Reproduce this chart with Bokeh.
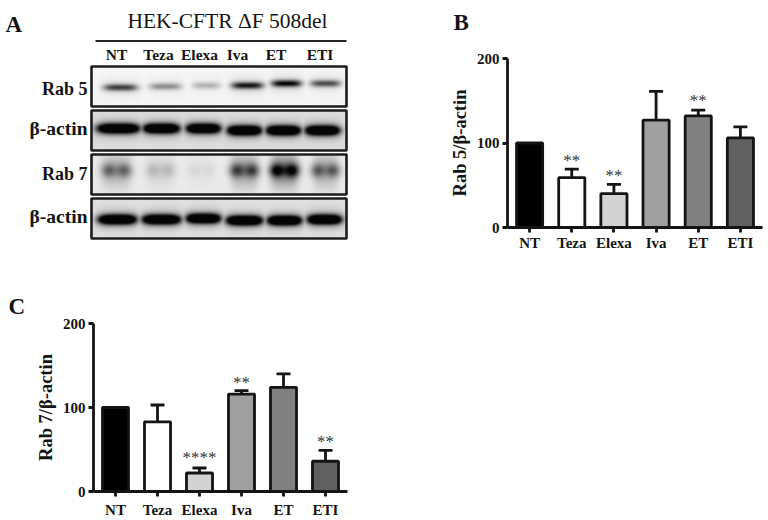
import numpy as np
from bokeh.embed import file_html
from bokeh.resources import INLINE
from bokeh.plotting import figure
from bokeh.layouts import column, row
from bokeh.models import (ColumnDataSource, FactorRange, FixedTicker,
                          Range1d, TeeHead, Title, Whisker)
from bokeh.core.properties import value

SERIF = "Liberation Serif"
INK = "#141414"

categories = ["NT", "Teza", "Elexa", "Iva", "ET", "ETI"]
fills = ["#000000", "#ffffff", "#d3d3d3", "#a0a0a2", "#808080", "#606060"]

rab5_values = [100, 59, 40, 127, 132, 106]
rab5_upper = [None, 69, 51, 161, 139, 119]
rab5_stars = [None, "**", "**", None, "**", None]
rab5_star_y = [None, 79, 62, None, 150, None]

rab7_values = [100, 83, 22, 116, 124, 36]
rab7_upper = [None, 103, 28, 120, 140, 49]
rab7_stars = [None, None, "****", "**", None, "**"]
rab7_star_y = [None, None, 40, 130, None, 60]

# Western blot lanes: lane centre, half width, band y, darkness
blot_rows = ["Rab 5", "β-actin", "Rab 7", "β-actin"]
blot_tops = [66, 110, 154, 198]
blot_label_y = [88, 128, 173, 216]
blot_label_size = ["18px", "19.5px", "18px", "19.5px"]
blot_bg = [0.945, 0.85, 0.90, 0.86]
rab5_lanes = [(120, 17, 87, .72), (165, 16, 86, .40), (206, 14, 85, .26),
              (247, 16, 85, .88), (286, 15, 83, .95), (325, 15, 83, .66)]
actin1_lanes = [(118, 21, 128, 1.0), (161, 18, 128, 1.0), (203, 17, 128, .98),
                (244, 17, 130, 1.0), (283, 17, 130, 1.0), (322, 17, 130, 1.0)]
rab7_lanes = [(116, 15, 170, .46), (160, 14, 170, .17), (201, 13, 170, .06),
              (244, 14, 170, .60), (284, 14, 170, .86), (325, 13, 170, .50)]
actin2_lanes = [(117, 19, 219, 1.0), (161, 19, 219, 1.0), (203, 17, 218, 1.0),
                (244, 18, 220, 1.0), (284, 17, 220, 1.0), (324, 17, 219, 1.0)]
blot_lanes = [rab5_lanes, actin1_lanes, rab7_lanes, actin2_lanes]
blot_kind = ["band", "band", "double", "band"]
lane_label_x = [116, 158, 199, 237, 275.5, 319.5]


def blot_image(top, bg, lanes, kind, left=91, w=255, h=40):
    xx, yy = np.meshgrid(np.arange(left, left + w) + .5, np.arange(top, top + h) + .5)
    dark = np.zeros_like(xx)
    for cx, hw, cy, d in lanes:
        if kind == "double":
            lobes = np.exp(-((xx - cx + 8) / 7.5) ** 2) + np.exp(-((xx - cx - 8) / 7.5) ** 2)
            core = np.minimum(lobes, 1.0) * np.exp(-((yy - cy) / 6.5) ** 2)
            halo = np.exp(-((xx - cx) / hw) ** 4) * np.exp(-((yy - cy) / 17.0) ** 2)
            dark = np.maximum(dark, d * (0.72 * core + 0.5 * halo))
        else:
            sy = 4.6 if d >= .97 else 3.4
            core = np.exp(-np.abs((xx - cx) / hw) ** 4) * np.exp(-((yy - cy) / sy) ** 2)
            core = np.minimum(core * (1.6 if d >= .97 else 1.0), 1.0)
            halo = np.exp(-np.abs((xx - cx) / (hw + 2)) ** 4) * np.exp(-((yy - cy) / 9.0) ** 2)
            dark = np.maximum(dark, d * (0.85 * core + (0.3 if d >= .97 else 0.12) * halo))
    grey = np.clip(bg * (1 - np.minimum(dark * 1.12, 1.0)) + .02, 0, 1)
    g = (grey * 255).astype(np.uint32)
    return (255 << 24) | (g << 16) | (g << 8) | g


# ---- Panel A ----
HA = 262
a = figure(width=440, height=HA, output_backend="svg", toolbar_location=None,
           x_range=Range1d(0, 440), y_range=Range1d(0, HA),
           min_border=0, x_axis_type=None, y_axis_type=None,
           outline_line_color=None, frame_align=False)
a.grid.visible = False

for top, bg, lanes, kind, name, ly, ls in zip(blot_tops, blot_bg, blot_lanes, blot_kind,
                                              blot_rows, blot_label_y, blot_label_size):
    img = blot_image(top, bg, lanes, kind)[::-1]
    a.image_rgba(image=[img], x=91, y=HA - top - 40, dw=255, dh=40)
    a.quad(left=91, right=346, top=HA - top, bottom=HA - top - 40,
           fill_color=None, line_color="#1c1c1c", line_width=2.6)
    a.text(x=[87], y=[HA - ly], text=[name], text_align="right", text_baseline="middle",
           text_font=value(SERIF), text_font_style="bold", text_font_size=ls, text_color=INK)

a.segment(x0=95, x1=346, y0=HA - 40.5, y1=HA - 40.5, line_color="#222222", line_width=2)
a.text(x=[227], y=[HA - 20], text=["HEK-CFTR ΔF 508del"], text_align="center", text_baseline="middle",
       text_font=value(SERIF), text_font_size="21.5px", text_color=INK)
a.text(x=lane_label_x, y=[HA - 54] * 6, text=categories,
       text_align="center", text_baseline="middle", text_font=value(SERIF),
       text_font_style="bold", text_font_size="15.5px", text_color=INK)
a.text(x=[5], y=[HA - 24], text=["A"], text_baseline="middle", text_font=value(SERIF),
       text_font_style="bold", text_font_size="23px", text_color=INK)


# ---- Panels B and C ----
def bar_panel(values, upper, stars, star_y, ylabel, letter, letter_offset, letter_standoff, w, h,
              left, right, top, bottom, label_standoff):
    p = figure(width=w, height=h, output_backend="svg", toolbar_location=None,
               x_range=FactorRange(factors=categories, range_padding=0.008),
               y_range=Range1d(0, 200),
               min_border_left=left, min_border_right=right,
               min_border_top=top, min_border_bottom=bottom,
               outline_line_color=None, frame_align=False)
    p.grid.visible = False
    src = ColumnDataSource(dict(x=categories, top=values, fill=fills))
    p.vbar(x="x", top="top", width=0.62, bottom=0, source=src,
           fill_color="fill", line_color=INK, line_width=2.8)

    ex = [c for c, u in zip(categories, upper) if u is not None]
    elo = [v for v, u in zip(values, upper) if u is not None]
    ehi = [u for u in upper if u is not None]
    esrc = ColumnDataSource(dict(x=ex, lo=elo, hi=ehi))
    p.add_layout(Whisker(source=esrc, base="x", lower="lo", upper="hi",
                         line_color=INK, line_width=2.8, lower_head=None,
                         upper_head=TeeHead(size=14, line_color=INK, line_width=2.8)))

    sx = [c for c, s in zip(categories, stars) if s]
    st = [s for s in stars if s]
    sy = [y for y in star_y if y is not None]
    p.text(x=sx, y=sy, text=st, text_align="center", text_baseline="middle",
           text_font=value(SERIF), text_font_size="17px", text_color="#333333")

    p.yaxis.ticker = FixedTicker(ticks=[0, 100, 200])
    p.yaxis.minor_tick_line_color = None
    p.xaxis.minor_tick_line_color = None
    for ax in (p.xaxis[0], p.yaxis[0]):
        ax.axis_line_color = INK
        ax.axis_line_width = 2.8
        ax.major_tick_line_color = INK
        ax.major_tick_line_width = 2.8
        ax.major_tick_out = 5
        ax.major_tick_in = 0
        ax.major_label_text_font = SERIF
        ax.major_label_text_font_style = "bold"
        ax.major_label_text_font_size = "15px"
        ax.major_label_text_color = INK
    p.xaxis.major_label_standoff = label_standoff
    p.yaxis.major_label_standoff = 3
    p.yaxis.axis_label = ylabel
    p.yaxis.axis_label_text_font = SERIF
    p.yaxis.axis_label_text_font_style = "bold"
    p.yaxis.axis_label_text_font_size = "18.5px"
    p.yaxis.axis_label_text_color = INK
    p.yaxis.axis_label_standoff = 4
    p.title.text = letter
    p.title.align = "left"
    p.title.offset = letter_offset
    p.title.standoff = letter_standoff
    p.title.text_font = SERIF
    p.title.text_font_style = "bold"
    p.title.text_font_size = "23px"
    p.title.text_color = INK
    return p


b = bar_panel(rab5_values, rab5_upper, rab5_stars, rab5_star_y, "Rab 5/β-actin", "B",
              -54, 0, 328, HA, 67, 6, 58, 35, 2)
b.add_layout(Title(text=" ", text_font_size="16px", standoff=5), "above")
c = bar_panel(rab7_values, rab7_upper, rab7_stars, rab7_star_y, "Rab 7/β-actin", "C",
              -85, 9, 360, 258, 93, 13, 61, 28, 5)

page = column(row(a, b, spacing=0), c, spacing=0)
open("out.html", "w").write(file_html(page, INLINE))
